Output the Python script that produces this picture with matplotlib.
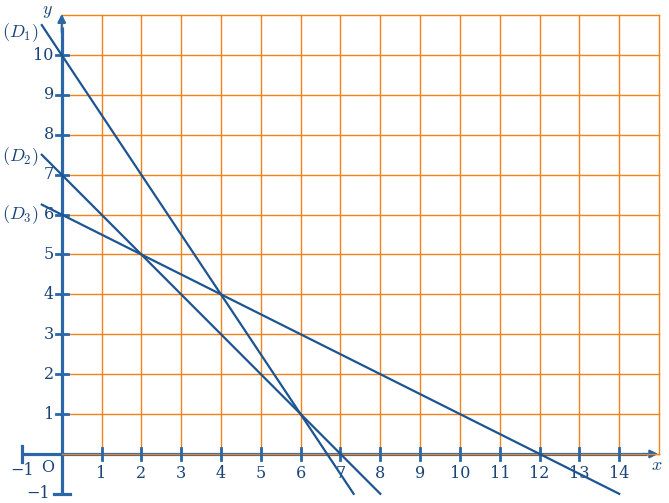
import matplotlib
matplotlib.use("Agg")
import matplotlib.pyplot as plt
import numpy as np

plt.rcParams['mathtext.fontset'] = 'cm'
plt.rcParams['font.family'] = 'DejaVu Serif'

# grid extent
grid_x = list(range(0, 16))
grid_y = list(range(0, 12))

# tick labels
x_ticks = list(range(1, 15))
y_ticks = list(range(1, 11))

# the three lines (endpoints)
d1_x = [-0.5, 7.33]
d1_y = [10.75, -1.0]
d2_x = [-0.5, 8.0]
d2_y = [7.5, -1.0]
d3_x = [-0.5, 14.0]
d3_y = [6.25, -1.0]

orange = '#f0841a'
blue = '#2a66a8'
dblue = '#1c5592'
tcol = '#1a4478'

fig = plt.figure(figsize=(6.69, 5.03), dpi=100)
ax = fig.add_axes([0, 0, 1, 1])
ax.set_xlim(-1.55, 15.25)
ax.set_ylim(-1.23, 11.38)
ax.axis('off')

# orange grid
for gx in grid_x:
    ax.plot([gx, gx], [grid_y[0], grid_y[-1]], color=orange, lw=1.0, zorder=1)
for gy in grid_y:
    ax.plot([grid_x[0], grid_x[-1]], [gy, gy], color=orange, lw=1.0, zorder=1)

# axes
ax.plot([-1, 14.7], [0, 0], color=blue, lw=2.3, zorder=3, solid_capstyle='butt')
ax.plot([0, 0], [-1, 10.7], color=blue, lw=2.3, zorder=3, solid_capstyle='butt')
ax.annotate('', xy=(15.05, 0), xytext=(14.5, 0),
            arrowprops=dict(arrowstyle='-|>', color=blue, lw=1.5, mutation_scale=12), zorder=4)
ax.annotate('', xy=(0, 11.1), xytext=(0, 10.5),
            arrowprops=dict(arrowstyle='-|>', color=blue, lw=1.5, mutation_scale=12), zorder=4)
ax.plot([0, 15], [0, 0], color=orange, lw=1.0, zorder=4)
# end bars
ax.plot([-1, -1], [-0.2, 0.2], color=blue, lw=2.3, zorder=3)
ax.plot([-0.2, 0.2], [-1, -1], color=blue, lw=2.3, zorder=3)

# ticks
for t in x_ticks:
    ax.plot([t, t], [-0.15, 0.15], color=blue, lw=2.0, zorder=5)
    ax.text(t, -0.28, str(t), ha='center', va='top', fontsize=11.5, color=tcol)
for t in y_ticks:
    ax.plot([-0.15, 0.15], [t, t], color=blue, lw=2.0, zorder=5)
    ax.text(-0.2, t, str(t), ha='right', va='center', fontsize=11.5, color=tcol)

ax.text(-1.0, -0.42, '\u22121', ha='center', va='center', fontsize=11.5, color=tcol)
ax.text(-0.6, -1.0, '\u22121', ha='center', va='center', fontsize=11.5, color=tcol)
ax.text(-0.35, -0.33, 'O', ha='center', va='center', fontsize=11.5, color=tcol)
ax.text(14.95, -0.28, '$x$', ha='center', va='center', fontsize=13, color=tcol)
ax.text(-0.35, 11.1, '$y$', ha='center', va='center', fontsize=13, color=tcol)

# lines
for xs, ys in [(d1_x, d1_y), (d2_x, d2_y), (d3_x, d3_y)]:
    ax.plot(xs, ys, color=dblue, lw=1.6, zorder=6)

ax.text(-1.05, 10.55, '$(D_1)$', ha='center', va='center', fontsize=13, color=tcol)
ax.text(-1.05, 7.45, '$(D_2)$', ha='center', va='center', fontsize=13, color=tcol)
ax.text(-1.05, 6.0, '$(D_3)$', ha='center', va='center', fontsize=13, color=tcol)

fig.savefig('out.png', dpi=100)
